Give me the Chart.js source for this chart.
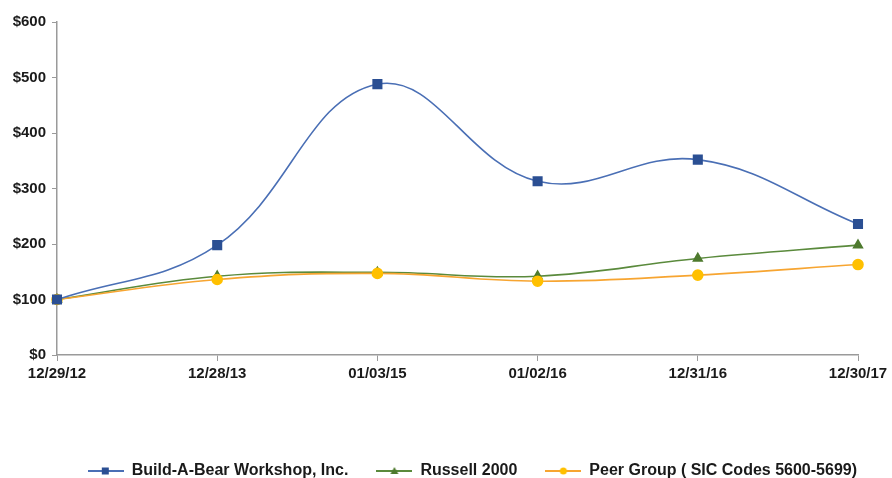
<!DOCTYPE html>
<html>
<head>
<meta charset="utf-8">
<script src="https://cdn.jsdelivr.net/npm/chart.js@4.4.0/dist/chart.umd.min.js"></script>
<style>
    html, body { margin: 0; padding: 0; background: #fff; }
    #wrap { width: 892px; height: 478px; }
</style>
</head>
<body>
<div id="wrap"><canvas id="tsrChart" width="892" height="478"></canvas></div>
<script>
// Cumulative total return, $100 invested
const periods = ['12/29/12', '12/28/13', '01/03/15', '01/02/16', '12/31/16', '12/30/17'];
const buildABear = [100, 198, 488, 313, 352, 236];
const russell2000 = [100, 142, 149, 142, 174, 198];
const peerGroup = [100, 136, 147, 133, 144, 163];
const seriesNames = ['Build-A-Bear Workshop, Inc.', 'Russell 2000', 'Peer Group ( SIC Codes 5600-5699)'];
const yTicks = [0, 100, 200, 300, 400, 500, 600];

const FONT = "'Liberation Sans', Arial, sans-serif";

// little line + marker images for the legend
function legendIcon(lineColor, markColor, shape) {
    const c = document.createElement('canvas');
    c.width = 36;
    c.height = 12;
    const g = c.getContext('2d');
    g.strokeStyle = lineColor;
    g.lineWidth = 2;
    g.beginPath();
    g.moveTo(0, 6);
    g.lineTo(36, 6);
    g.stroke();
    g.fillStyle = markColor;
    g.beginPath();
    if (shape === 'rect') {
        g.rect(14, 2.5, 7, 7);
    } else if (shape === 'triangle') {
        g.moveTo(18, 2);
        g.lineTo(22, 9);
        g.lineTo(14, 9);
        g.closePath();
    } else {
        g.arc(18, 6, 3.5, 0, Math.PI * 2);
    }
    g.fill();
    return c;
}

const icons = [
    legendIcon('#4a6fb5', '#2b4f93', 'rect'),
    legendIcon('#5a8a3c', '#4e7a2e', 'triangle'),
    legendIcon('#f7a531', '#ffc000', 'circle')
];

// the legend row sits a bit right of centre in the original
const legendShift = {
    id: 'legendShift',
    afterLayout(chart) {
        if (chart.legend) {
            chart.legend.right += 27;
        }
    }
};

const ctx = document.getElementById('tsrChart').getContext('2d');
new Chart(ctx, {
    type: 'line',
    data: {
        labels: periods,
        datasets: [{
            label: seriesNames[0],
            data: buildABear,
            borderColor: '#4a6fb5',
            backgroundColor: '#2b4f93',
            pointBackgroundColor: '#2b4f93',
            pointBorderColor: '#2b4f93',
            pointStyle: 'rect',
            pointRadius: 6,
            borderWidth: 1.6,
            tension: 0.4,
            order: 0
        }, {
            label: seriesNames[1],
            data: russell2000,
            borderColor: '#5a8a3c',
            backgroundColor: '#4e7a2e',
            pointBackgroundColor: '#4e7a2e',
            pointBorderColor: '#4e7a2e',
            pointStyle: 'triangle',
            pointRadius: 5,
            borderWidth: 1.6,
            tension: 0.4,
            order: 2
        }, {
            label: seriesNames[2],
            data: peerGroup,
            borderColor: '#f7a531',
            backgroundColor: '#ffc000',
            pointBackgroundColor: '#ffc000',
            pointBorderColor: '#ffc000',
            pointStyle: 'circle',
            pointRadius: 5,
            borderWidth: 1.6,
            tension: 0.4,
            order: 1
        }]
    },
    options: {
        responsive: false,
        animation: false,
        layout: {
            padding: { top: 22, right: 34, left: 0, bottom: -11 }
        },
        plugins: {
            tooltip: { enabled: false },
            legend: {
                position: 'bottom',
                align: 'end',
                labels: {
                    usePointStyle: true,
                    pointStyleWidth: 36,
                    padding: 28,
                    color: '#1a1a1a',
                    font: { family: FONT, size: 16, weight: 'bold' },
                    generateLabels: function(chart) {
                        return chart.data.datasets.map((ds, i) => ({
                            text: ds.label,
                            pointStyle: icons[i],
                            fillStyle: ds.backgroundColor,
                            strokeStyle: ds.borderColor,
                            lineWidth: 0,
                            fontColor: '#1a1a1a',
                            hidden: false,
                            datasetIndex: i
                        }));
                    }
                }
            }
        },
        scales: {
            x: {
                offset: false,
                border: { color: '#9a9a9a', width: 1.5 },
                grid: {
                    display: true,
                    drawOnChartArea: false,
                    drawTicks: true,
                    tickLength: 6,
                    color: '#9a9a9a'
                },
                ticks: {
                    color: '#1a1a1a',
                    padding: 4,
                    maxRotation: 0,
                    autoSkip: false,
                    font: { family: FONT, size: 15, weight: 'bold' }
                },
                afterFit: function(scale) {
                    scale.height = 80;
                }
            },
            y: {
                min: 0,
                max: 600,
                border: { color: '#9a9a9a', width: 1.5 },
                grid: {
                    display: true,
                    drawOnChartArea: false,
                    drawTicks: true,
                    tickLength: 5,
                    color: '#9a9a9a'
                },
                afterBuildTicks: function(scale) {
                    scale.ticks = yTicks.map(v => ({ value: v }));
                },
                ticks: {
                    color: '#1a1a1a',
                    padding: 6,
                    font: { family: FONT, size: 15, weight: 'bold' },
                    callback: function(value) {
                        return '$' + value;
                    }
                },
                afterFit: function(scale) {
                    scale.width = 57;
                }
            }
        }
    },
    plugins: [legendShift]
});
</script>
</body>
</html>
